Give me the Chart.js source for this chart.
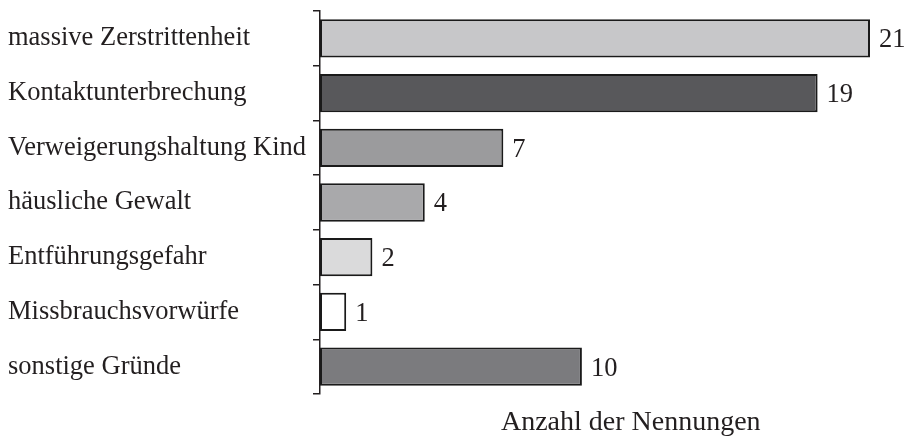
<!DOCTYPE html>
<html>
<head>
<meta charset="utf-8">
<script src="https://cdn.jsdelivr.net/npm/chart.js@4"></script>
<style>
  html, body { margin: 0; padding: 0; background: #fff; }
  #wrap { width: 910px; height: 442px; }
</style>
</head>
<body>
<div id="wrap"><canvas id="chart"></canvas></div>
<script>
const categories = [
  "massive Zerstrittenheit",
  "Kontaktunterbrechung",
  "Verweigerungshaltung Kind",
  "häusliche Gewalt",
  "Entführungsgefahr",
  "Missbrauchsvorwürfe",
  "sonstige Gründe"
];
const counts = [21, 19, 7, 4, 2, 1, 10];
const barColors = ["#c7c7c9", "#58585b", "#9b9b9d", "#a9a9ab", "#dadadb", "#ffffff", "#7b7b7e"];
const axisTitle = "Anzahl der Nennungen";

const FONT = "'Liberation Serif', 'DejaVu Serif', serif";
const FONT_SIZE = 26.5;

// value numbers right of each bar + the axis title under the bars
const labelPlugin = {
  id: "labels",
  afterDatasetsDraw(chart) {
    const ctx = chart.ctx;
    const meta = chart.getDatasetMeta(0);
    ctx.save();
    ctx.font = `${FONT_SIZE}px ${FONT}`;
    ctx.fillStyle = "#231f20";
    ctx.textAlign = "left";
    ctx.textBaseline = "middle";
    meta.data.forEach((bar, i) => {
      ctx.fillText(String(counts[i]), bar.x + 9, bar.y + 2);
    });
    const area = chart.chartArea;
    ctx.font = `28px ${FONT}`;
    ctx.textAlign = "center";
    ctx.textBaseline = "alphabetic";
    ctx.fillText(axisTitle, area.left + (area.right - area.left) * 0.565, chart.height - 12);
    ctx.restore();
  }
};

new Chart(document.getElementById("chart"), {
  type: "bar",
  data: {
    labels: categories,
    datasets: [{
      data: counts,
      backgroundColor: barColors,
      borderColor: "#1a1a1a",
      borderWidth: 2,
      borderSkipped: false,
      categoryPercentage: 0.7,
      barPercentage: 1.0
    }]
  },
  options: {
    indexAxis: "y",
    responsive: true,
    maintainAspectRatio: false,
    animation: false,
    layout: { padding: { left: 8, right: 40, top: 11, bottom: 0 } },
    plugins: {
      legend: { display: false },
      tooltip: { enabled: false }
    },
    scales: {
      x: {
        min: 0,
        max: 21,
        display: true,
        grid: { display: false, drawTicks: false },
        border: { display: false },
        ticks: { display: false },
        afterFit(scale) { scale.height = 48; }
      },
      y: {
        grid: {
          offset: true,
          drawOnChartArea: false,
          tickLength: 7,
          color: "#231f20",
          lineWidth: 1.5
        },
        border: { display: true, color: "#231f20", width: 1.5 },
        ticks: {
          crossAlign: "far",
          color: "#231f20",
          padding: 6,
          font: { family: FONT, size: FONT_SIZE }
        },
        afterFit(scale) {
          scale.width = 312;
          scale.paddingTop = 0;
          scale.paddingBottom = 0;
        }
      }
    }
  },
  plugins: [labelPlugin]
});
</script>
</body>
</html>
